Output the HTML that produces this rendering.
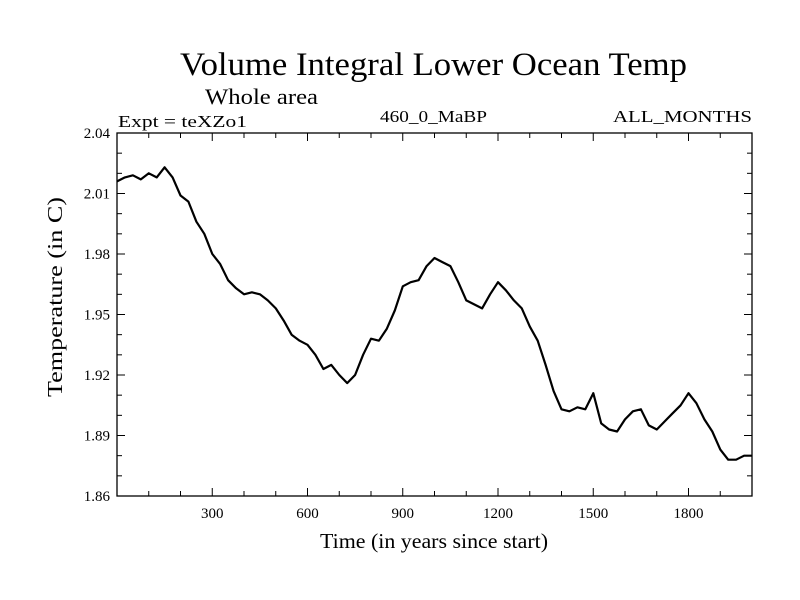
<!DOCTYPE html>
<html><head><meta charset="utf-8"><style>html,body{margin:0;padding:0;background:#fff}svg{display:block}</style></head>
<body>
<svg id="chart" width="800" height="600" xmlns="http://www.w3.org/2000/svg" font-family="'Liberation Serif', serif">
<text x="180" y="75" font-size="33" textLength="507" lengthAdjust="spacingAndGlyphs">Volume Integral Lower Ocean Temp</text>
<text x="205" y="104" font-size="22" textLength="113" lengthAdjust="spacingAndGlyphs">Whole area</text>
<text x="118" y="127" font-size="17" textLength="129" lengthAdjust="spacingAndGlyphs">Expt = teXZo1</text>
<text x="380" y="122" font-size="17" textLength="107" lengthAdjust="spacingAndGlyphs">460_0_MaBP</text>
<text x="613" y="122" font-size="17" textLength="139" lengthAdjust="spacingAndGlyphs">ALL_MONTHS</text>
<text x="320" y="548" font-size="21" textLength="228" lengthAdjust="spacingAndGlyphs">Time (in years since start)</text>
<text transform="translate(62,397) rotate(-90)" font-size="21" textLength="200" lengthAdjust="spacingAndGlyphs">Temperature (in C)</text>
<g id="axes"></g>
<path id="series" fill="none" stroke="#000" stroke-width="2.2" stroke-linejoin="round"/>
<rect x="117" y="133" width="635" height="363" fill="none" stroke="#000" stroke-width="1.3"/>
</svg>
<script>
const years = [0,25,50,75,100,125,150,175,200,225,250,275,300,325,350,375,400,425,450,475,500,525,550,575,600,625,650,675,700,725,750,775,800,825,850,875,900,925,950,975,1000,1025,1050,1075,1100,1125,1150,1175,1200,1225,1250,1275,1300,1325,1350,1375,1400,1425,1450,1475,1500,1525,1550,1575,1600,1625,1650,1675,1700,1725,1750,1775,1800,1825,1850,1875,1900,1925,1950,1975,2000];
const temps = [2.016,2.018,2.019,2.017,2.020,2.018,2.023,2.018,2.009,2.006,1.996,1.990,1.980,1.975,1.967,1.963,1.960,1.961,1.960,1.957,1.953,1.947,1.940,1.937,1.935,1.930,1.923,1.925,1.920,1.916,1.920,1.930,1.938,1.937,1.943,1.952,1.964,1.966,1.967,1.974,1.978,1.976,1.974,1.966,1.957,1.955,1.953,1.960,1.966,1.962,1.957,1.953,1.944,1.937,1.925,1.912,1.903,1.902,1.904,1.903,1.911,1.896,1.893,1.892,1.898,1.902,1.903,1.895,1.893,1.897,1.901,1.905,1.911,1.906,1.898,1.892,1.883,1.878,1.878,1.880,1.880];
const xTickLabels = [300,600,900,1200,1500,1800];
const yTickLabels = ["1.86","1.89","1.92","1.95","1.98","2.01","2.04"];
const L=117,R=752,T=133,B=496,X0=0,X1=2000,Y0=1.86,Y1=2.04;
const xs=v=>L+(v-X0)/(X1-X0)*(R-L);
const ys=v=>B-(v-Y0)/(Y1-Y0)*(B-T);
const NS="http://www.w3.org/2000/svg";
const ax=document.getElementById('axes');
function line(x1,y1,x2,y2,name){const l=document.createElementNS(NS,'line');l.setAttribute('x1',x1);l.setAttribute('y1',y1);l.setAttribute('x2',x2);l.setAttribute('y2',y2);l.setAttribute('stroke','#000');l.setAttribute('stroke-width','1');


ax.appendChild(l);}
for(let t=100;t<2000;t+=100){const x=xs(t);const len=(t%300===0)?8:5;line(x,B,x,B-len,'x-tick');line(x,T,x,T+len,'x-tick-top');}
for(let k=1;k<18;k++){const v=Y0+k*0.01;const y=ys(v);const len=(k%3===0)?8:5;line(L,y,L+len,y,'y-tick');line(R,y,R-len,y,'y-tick-right');}
xTickLabels.forEach(v=>{const t=document.createElementNS(NS,'text');t.setAttribute('x',xs(v));t.setAttribute('y',B+22);t.setAttribute('text-anchor','middle');t.setAttribute('font-size','15');t.textContent=v;


ax.appendChild(t);});
yTickLabels.forEach(v=>{const t=document.createElementNS(NS,'text');t.setAttribute('x',L-7);t.setAttribute('y',ys(parseFloat(v))+5);t.setAttribute('text-anchor','end');t.setAttribute('font-size','15');t.textContent=v;


ax.appendChild(t);});
document.getElementById('series').setAttribute('d',years.map((yr,i)=>(i?'L':'M')+xs(yr).toFixed(1)+' '+ys(temps[i]).toFixed(1)).join(' '));
</script>
</body></html>
